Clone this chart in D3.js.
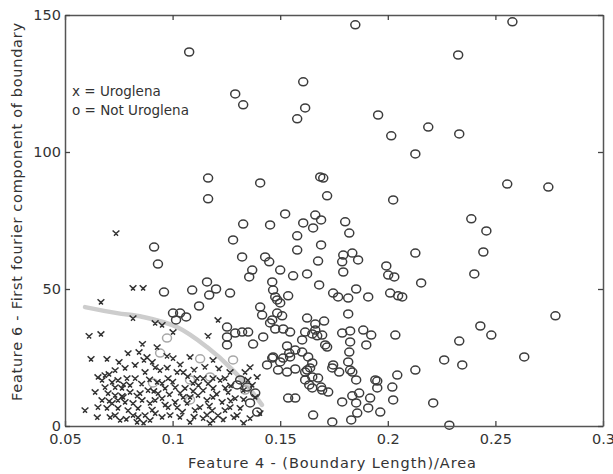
<!DOCTYPE html>
<html>
<head>
<meta charset="utf-8">
<script src="https://cdn.jsdelivr.net/npm/d3@7"></script>
<style>
  html, body { margin: 0; padding: 0; background: #fff; }
  svg { display: block; }
  text { font-family: "DejaVu Sans", sans-serif; fill: #333; }
</style>
</head>
<body>
<svg id="chart" width="613" height="474"></svg>
<script>
// ---- data ----
const xTicks = [0.05, 0.1, 0.15, 0.2, 0.25, 0.3];
const xTickLabels = ["0.05", "0.1", "0.15", "0.2", "0.25", "0.3"];
const yTicks = [0, 50, 100, 150];
const yTickLabels = ["0", "50", "100", "150"];
const xTitle = "Feature 4 - (Boundary Length)/Area";
const yTitle = "Feature 6 - First  fourier component of boundary";
const legendLines = ["x = Uroglena", "o = Not Uroglena"];

// Not Uroglena (o)
const notUroglena = [
 [0.1077,136.5],[0.1849,146.4],[0.2579,147.5],[0.2327,135.4],[0.1291,121.2],[0.1328,117.2],
 [0.1607,125.6],[0.1616,116.1],[0.1579,112.1],[0.1955,113.5],[0.2016,105.9],[0.2188,109.1],
 [0.2332,106.6],[0.2128,99.3],[0.1165,90.5],[0.1165,82.9],[0.1407,88.7],[0.1686,90.9],
 [0.1700,90.5],[0.1718,84.0],[0.2025,82.5],[0.2555,88.3],[0.2746,87.2],[0.1663,77.0],
 [0.1690,75.2],[0.1607,74.1],[0.1653,72.3],[0.1802,74.5],[0.1821,70.4],[0.2388,75.6],
 [0.2458,71.2],[0.1328,73.7],[0.1453,73.4],[0.1523,77.4],[0.1281,67.9],[0.1579,69.4],
 [0.1579,64.2],[0.1690,66.1],[0.1676,60.2],[0.1625,55.5],[0.1681,51.5],[0.1793,62.4],
 [0.1835,63.1],[0.1862,60.6],[0.1788,59.9],[0.1793,56.2],[0.2128,63.1],[0.2444,63.5],
 [0.1993,58.4],[0.2002,55.1],[0.2030,54.4],[0.2155,52.2],[0.2402,55.5],[0.1746,48.5],
 [0.1769,47.1],[0.1816,46.7],[0.1853,50.0],[0.1909,47.1],[0.2011,48.5],[0.2048,47.5],
 [0.2067,47.1],[0.2779,40.2],[0.1625,39.4],[0.1663,37.2],[0.1704,38.3],[0.1816,40.9],
 [0.1788,33.9],[0.1825,34.7],[0.1649,33.6],[0.1672,32.9],[0.1718,28.8],[0.1821,27.0],
 [0.1816,23.4],[0.1886,35.0],[0.1923,33.2],[0.1900,29.6],[0.2035,33.2],[0.2430,36.5],
 [0.2481,33.2],[0.2332,31.0],[0.2634,25.2],[0.2262,24.1],[0.2346,22.3],[0.1625,20.4],
 [0.1649,23.0],[0.1616,16.8],[0.1635,15.0],[0.1746,22.3],[0.1774,19.7],[0.1835,19.7],
 [0.1853,16.8],[0.2044,18.6],[0.2021,14.2],[0.2128,20.4],[0.1951,16.4],[0.1951,13.9],
 [0.1649,13.9],[0.1690,14.2],[0.1723,12.4],[0.1788,8.8],[0.1835,11.0],[0.1867,12.0],
 [0.1853,8.4],[0.1918,10.2],[0.1909,6.6],[0.1965,5.1],[0.2025,9.5],[0.2211,8.4],
 [0.1653,4.0],[0.1742,1.5],[0.1830,2.2],[0.2286,0.3],
 [0.0914,65.3],[0.0932,59.1],[0.1323,61.7],[0.1430,61.7],[0.1449,59.9],[0.1370,56.9],
 [0.1356,54.4],[0.1500,56.9],[0.1560,54.8],[0.1160,52.6],[0.1202,50.0],[0.1170,47.8],
 [0.1091,49.6],[0.0960,48.9],[0.1267,48.5],[0.1463,52.6],[0.1467,49.6],[0.1486,46.0],
 [0.1123,43.8],[0.1063,39.8],[0.1002,41.2],[0.1035,41.2],[0.1016,38.7],[0.1407,43.4],
 [0.1416,40.5],[0.1253,36.1],[0.1253,32.5],[0.1253,29.6],[0.1291,33.9],[0.1323,34.3],
 [0.1351,34.3],[0.1374,29.9],[0.1421,32.5],[0.1453,37.6],[0.1477,35.4],[0.1514,35.4],
 [0.1546,34.3],[0.1532,29.2],[0.1542,26.6],[0.1570,27.7],[0.1602,31.4],[0.1602,27.0],
 [0.1439,22.3],[0.1463,24.8],[0.1514,24.8],[0.1546,25.2],[0.1570,20.8],[0.1314,16.8],
 [0.1300,15.0],[0.1346,14.2],[0.1384,12.0],[0.1360,8.4],[0.1393,5.1],[0.1537,10.2],
 [0.1570,10.2],[0.1477,47.1],[0.1537,47.5],[0.1500,44.9],[0.1486,41.2],[0.1509,40.2],
 [0.1463,38.7],[0.1616,34.3],[0.1663,35.0],[0.1695,33.2],[0.1709,29.6],[0.1825,30.7],
 [0.1467,25.2],[0.1500,23.4],[0.1630,25.2],[0.1639,21.2],[0.1490,20.4],[0.1532,19.7],
 [0.1616,19.7],[0.1649,17.9],[0.1676,17.5],[0.1695,13.1],[0.1742,21.2],[0.1825,20.4],
 [0.1942,16.8],[0.1858,4.7]
];

// Not Uroglena drawn faint (close to the boundary)
const notUroglenaFaint = [
 [0.0974,32.1],[0.0942,26.6],[0.1128,24.5],[0.1281,24.1],[0.1174,17.9],[0.1081,9.5],
 [0.0909,15.7],[0.1337,13.1],[0.1081,16.8]
];

// Uroglena (x)
const uroglena = [
 [0.0737,70.4],[0.0816,50.4],[0.0863,50.4],[0.0667,45.3],[0.0612,32.9],[0.0667,33.6],
 [0.1165,32.9],[0.1211,38.7],[0.1002,34.3],[0.0621,24.5],[0.0695,24.5],[0.0793,26.6],
 [0.0844,27.0],[0.0751,23.4],[0.0867,24.1],[0.0733,20.4],[0.0905,23.4],[0.0653,17.9],
 [0.0672,16.8],[0.0719,16.1],[0.0746,16.8],[0.0788,17.5],[0.0826,17.5],[0.0686,14.2],
 [0.0733,14.2],[0.0765,13.9],[0.0802,15.0],[0.0928,16.1],[0.0951,15.7],[0.0979,17.5],
 [0.0733,11.3],[0.0770,10.6],[0.0802,12.4],[0.0849,12.0],[0.0886,13.1],[0.0672,9.5],
 [0.0653,6.9],[0.0695,6.6],[0.0593,5.8],[0.0719,8.4],[0.0746,9.5],[0.0746,6.6],
 [0.0816,8.4],[0.0839,6.6],[0.0895,8.4],[0.0919,9.5],[0.0951,10.2],[0.0979,6.9],
 [0.0733,4.0],[0.0816,4.0],[0.0839,3.3],[0.0872,4.0],[0.0919,4.7],[0.0951,3.3],
 [0.0835,1.5],[0.0965,13.9],[0.0932,12.0],[0.1081,25.2],[0.1188,24.1],[0.1002,24.8],
 [0.1021,19.7],[0.1049,19.7],[0.1114,17.5],[0.1142,17.5],[0.1188,17.5],[0.1221,16.8],
 [0.1244,17.5],[0.1095,15.7],[0.1142,13.1],[0.1188,13.9],[0.1012,14.2],[0.1049,10.6],
 [0.1081,10.6],[0.1160,9.5],[0.1188,10.6],[0.1021,6.9],[0.1067,8.4],[0.1127,6.9],
 [0.1184,5.8],[0.1244,5.8],[0.1034,3.3],[0.1081,1.5],[0.1142,2.9],[0.1174,1.1],
 [0.1360,21.5],[0.1337,19.7],[0.1393,17.9],[0.1370,15.0],[0.1328,13.1],[0.1384,10.6],
 [0.1267,6.9],[0.1300,4.0],[0.1360,2.9],[0.1188,2.2],[0.1406,4.7],[0.0881,25.2],
 [0.0928,28.8],[0.0974,25.6],[0.0816,39.4],[0.0919,37.6],[0.0951,36.9],[0.0640,12.4],
 [0.0700,12.0],[0.0779,8.8],[0.0858,9.5],[0.0793,5.8],[0.0756,2.2],[0.0895,2.2],
 [0.0988,4.0],[0.1012,8.8],[0.1105,5.8],[0.1211,4.0],[0.1230,8.8],[0.1258,12.4],
 [0.1291,10.2],[0.1314,6.6],[0.0826,22.3],[0.0872,19.7],[0.0941,20.4],[0.1058,13.9],
 [0.1118,11.3],[0.0686,18.6],[0.1267,19.7],[0.0919,21.5],[0.0779,21.2],
 [0.0705,19.0],[0.0772,15.2],[0.0856,15.5],[0.0893,17.0],[0.0912,12.8],[0.0985,11.6],
 [0.1035,12.2],[0.1095,12.9],[0.1120,15.0],[0.1165,15.6],[0.1205,11.8],[0.1245,14.0],
 [0.1270,9.3],[0.1330,9.8],[0.1350,16.9],[0.0975,21.3],[0.1035,22.5],[0.1100,20.6],
 [0.1150,21.6],[0.1215,21.0],[0.0765,11.0],[0.0835,11.1],[0.0905,6.0],[0.0965,7.8],
 [0.1045,5.2],[0.1100,3.4],[0.1160,4.2],[0.1235,2.4],[0.1285,3.2],[0.1330,1.2],
 [0.0710,3.3],[0.0785,2.6],[0.0865,1.2],[0.0705,9.2],[0.0650,3.2],[0.1000,16.2],
 [0.1070,18.2],[0.1170,7.4],[0.1270,14.8],[0.0860,30.0]
];

// decision boundary (grey curve)
const boundaryX = [0.0593, 0.0742, 0.0862, 0.1020, 0.1160, 0.1280, 0.1374, 0.1415];
const boundaryY = [43.4, 41.2, 39.8, 36.1, 28.8, 20.4, 12.0, 7.7];

// ---- drawing ----
(function () {
const svg = d3.select("#chart");
const pL = 65, pR = 603, pT = 15, pB = 426;
const x = d3.scaleLinear().domain([0.05, 0.3]).range([pL, pR]);
const y = d3.scaleLinear().domain([0, 150]).range([pB, pT]);

// boundary curve
const line = d3.line().x(d => x(d[0])).y(d => y(d[1])).curve(d3.curveCatmullRom);
svg.append("path")
   .datum(boundaryX.map((v, i) => [v, boundaryY[i]]))
   .attr("d", line)
   .attr("fill", "none").attr("stroke", "#cdcdcd")
   .attr("stroke-width", 4.5).attr("stroke-linecap", "round");

// faint circles
svg.append("g").selectAll("ellipse").data(notUroglenaFaint).join("ellipse")
   .attr("cx", d => x(d[0])).attr("cy", d => y(d[1]))
   .attr("rx", 4.5).attr("ry", 4)
   .attr("fill", "none").attr("stroke", "#a8a8a8").attr("stroke-width", 1.5);

// circles
svg.append("g").selectAll("ellipse").data(notUroglena).join("ellipse")
   .attr("cx", d => x(d[0])).attr("cy", d => y(d[1]))
   .attr("rx", 4.5).attr("ry", 4)
   .attr("fill", "none").attr("stroke", "#3c3c3c").attr("stroke-width", 1.5);

// x markers (rendered Y-like as in the reference)
const xMark = "M-3.4,-2.6 L0,0.5 L3.4,-2.6 M-2,2.6 L0,0.5 L2,2.6";
svg.append("g").selectAll("path").data(uroglena).join("path")
   .attr("transform", d => `translate(${x(d[0])},${y(d[1])})`)
   .attr("d", xMark)
   .attr("fill", "none").attr("stroke", "#333").attr("stroke-width", 1.5);

// axes
const axStyle = g => {
  g.select(".domain").attr("stroke", "#555").attr("stroke-width", 1.5);
  g.selectAll(".tick line").attr("stroke", "#444").attr("stroke-width", 1.3);
  g.selectAll(".tick text").attr("fill", "#333")
   .style("font-family", "'DejaVu Sans', sans-serif").style("font-size", "14.5px");
};
svg.append("g").attr("transform", `translate(0,${pB})`)
   .call(d3.axisBottom(x).tickValues(xTicks).tickFormat((d, i) => xTickLabels[i])
         .tickSize(-5).tickSizeOuter(0).tickPadding(8))
   .call(axStyle);
svg.append("g").attr("transform", `translate(0,${pT})`)
   .call(d3.axisTop(x).tickValues(xTicks).tickFormat("")
         .tickSize(-5).tickSizeOuter(0))
   .call(axStyle);
svg.append("g").attr("transform", `translate(${pL},0)`)
   .call(d3.axisLeft(y).tickValues(yTicks).tickFormat((d, i) => yTickLabels[i])
         .tickSize(-5).tickSizeOuter(0).tickPadding(4))
   .call(axStyle);
svg.append("g").attr("transform", `translate(${pR},0)`)
   .call(d3.axisRight(y).tickValues(yTicks).tickFormat("")
         .tickSize(-5).tickSizeOuter(0))
   .call(axStyle);

// axis titles
svg.append("text").attr("x", 332).attr("y", 468)
   .attr("text-anchor", "middle").style("font-size", "14.5px")
   .attr("textLength", 288).attr("lengthAdjust", "spacing").text(xTitle);
svg.append("text")
   .attr("transform", "translate(22,212) rotate(-90)")
   .attr("text-anchor", "middle").style("font-size", "14.5px")
   .attr("textLength", 378).attr("lengthAdjust", "spacing").text(yTitle);

// legend text
svg.selectAll(".leg").data(legendLines).join("text").attr("class", "leg")
   .attr("x", 72).attr("y", (d, i) => 96 + i * 19)
   .style("font-size", "13.5px").text(d => d);
})();
</script>
</body>
</html>
